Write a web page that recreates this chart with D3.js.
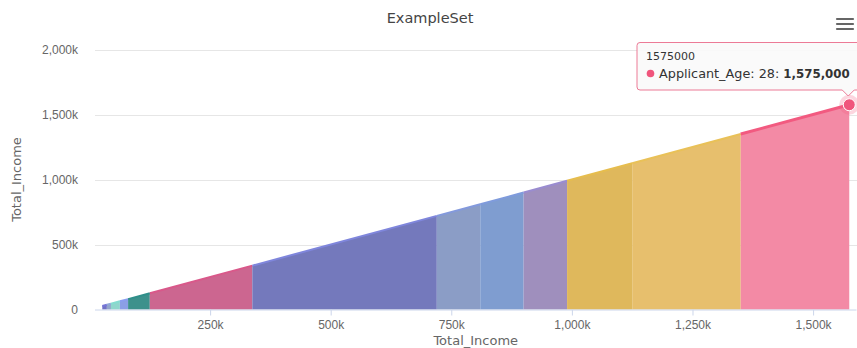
<!DOCTYPE html>
<html>
<head>
<meta charset="utf-8">
<script src="https://cdn.jsdelivr.net/npm/d3@7"></script>
<style>
  html, body { margin: 0; padding: 0; background: #fff; }
  svg { display: block; font-family: "DejaVu Sans", Verdana, sans-serif; }
</style>
</head>
<body>
<svg id="chart" width="857" height="348"></svg>
<script>
// Income boundaries between consecutive Applicant_Age series (x = y = Total_Income)
const incomeBreaks = [26500, 36000, 44500, 63000, 80000, 125000, 337500, 720000,
                      810000, 900000, 990000, 1125000, 1350000, 1575000];
// Fill and line colour of each series, in the same order as the segments
const seriesFill = ["#7272c6", "#93a6cc", "#8fd6cc", "#8b9fe6", "#3d918c", "#cc6690",
                    "#7479bc", "#8b9dc6", "#7f9dd0", "#9f8fbd", "#dfb85c", "#e7bf6d", "#f38aa5"];
const seriesLine = ["#7676d8", "#90a8d8", "#84dcd0", "#8a9ef0", "#2f8f8a", "#d9588a",
                    "#7f86dc", "#8399dc", "#7f9bdc", "#9a8cd0", "#e6bd4e", "#e9c158", "#f25a80"];
const xTicks = [250000, 500000, 750000, 1000000, 1250000, 1500000];
const yTicks = [0, 500000, 1000000, 1500000, 2000000];
const hoverAge = 28;
const hoverIncome = 1575000;

const svg = d3.select("#chart");
const W = 857, H = 348;
const plot = { left: 95, right: 856.5, top: 49.5, bottom: 309.5 };

const x = d3.scaleLinear().domain([11400, 1590000]).range([plot.left, plot.right]);
const y = d3.scaleLinear().domain([0, 2000000]).range([plot.bottom, plot.top]);

const kFmt = v => v === 0 ? "0" : d3.format(",")(v / 1000) + "k";

// Title
svg.append("text")
  .attr("x", 430).attr("y", 23)
  .attr("text-anchor", "middle")
  .attr("font-size", "14.5px")
  .attr("fill", "#444")
  .text("ExampleSet");

// Context menu icon
const menu = svg.append("g").attr("stroke", "#666").attr("stroke-width", 2.2).attr("stroke-linecap", "round");
[19, 24, 29].forEach(cy => menu.append("line").attr("x1", 837).attr("x2", 853).attr("y1", cy).attr("y2", cy));

// Horizontal grid and y labels
const yAxis = d3.axisLeft(y).tickValues(yTicks).tickFormat(kFmt).tickSize(0).tickPadding(17);
const yg = svg.append("g").attr("transform", `translate(${plot.left},0)`).call(yAxis);
yg.select(".domain").remove();
yg.selectAll("text").attr("font-size", "12px").attr("fill", "#666").attr("font-family", null);
svg.append("g").selectAll("line")
  .data(yTicks.filter(v => v > 0))
  .join("line")
  .attr("x1", plot.left).attr("x2", W)
  .attr("y1", d => Math.round(y(d)) + 0.5).attr("y2", d => Math.round(y(d)) + 0.5)
  .attr("stroke", "#e6e6e6").attr("stroke-width", 1);

// Area segments, one per Applicant_Age series
const area = d3.area().x(d => x(d)).y0(y(0)).y1(d => y(d));
const line = d3.line().x(d => x(d)).y(d => y(d));
const segs = d3.range(incomeBreaks.length - 1).map(i => ({
  pts: [incomeBreaks[i], incomeBreaks[i + 1]], fill: seriesFill[i], stroke: seriesLine[i], i
}));
const gArea = svg.append("g");
gArea.selectAll("path.area").data(segs).join("path")
  .attr("class", "area")
  .attr("d", d => area(d.pts))
  .attr("fill", d => d.fill);
gArea.selectAll("path.line").data(segs).join("path")
  .attr("class", "line")
  .attr("d", d => line(d.pts))
  .attr("fill", "none")
  .attr("stroke", d => d.stroke)
  .attr("stroke-width", d => d.i === segs.length - 1 ? 3 : 2);

// X axis
const xAxis = d3.axisBottom(x).tickValues(xTicks).tickFormat(kFmt).tickSize(6).tickPadding(5);
const xg = svg.append("g").attr("transform", `translate(0,${plot.bottom})`).call(xAxis);
xg.select(".domain").attr("stroke", "#ccd6eb").attr("d", `M${plot.left},0.5H${plot.right}`);
xg.selectAll(".tick line").attr("stroke", "#ccd6eb");
xg.selectAll("text").attr("font-size", "12px").attr("fill", "#666").attr("font-family", null);

// Axis titles
svg.append("text")
  .attr("x", (plot.left + plot.right) / 2).attr("y", 345)
  .attr("text-anchor", "middle").attr("font-size", "13px").attr("fill", "#666")
  .text("Total_Income");
svg.append("text")
  .attr("transform", `translate(21,${(plot.top + plot.bottom) / 2}) rotate(-90)`)
  .attr("text-anchor", "middle").attr("font-size", "13px").attr("fill", "#666")
  .text("Total_Income");

// Hovered point with halo
const hx = x(hoverIncome), hy = y(hoverIncome);
svg.append("circle").attr("cx", hx).attr("cy", hy).attr("r", 10)
  .attr("fill", "#f25a80").attr("opacity", 0.25);
svg.append("circle").attr("cx", hx).attr("cy", hy).attr("r", 6)
  .attr("fill", "#f0557c").attr("stroke", "#fff").attr("stroke-width", 1);

// Tooltip
const tip = svg.append("g");
const bx = 637, by = 42.5, bw = 240, bh = 47.5;
const ax = hx - 1;
tip.append("path")
  .attr("d", `M${bx + 3},${by} H${bx + bw - 3} Q${bx + bw},${by} ${bx + bw},${by + 3} V${by + bh - 3}
              Q${bx + bw},${by + bh} ${bx + bw - 3},${by + bh} H${ax + 6} L${ax},${by + bh + 6} L${ax - 6},${by + bh}
              H${bx + 3} Q${bx},${by + bh} ${bx},${by + bh - 3} V${by + 3} Q${bx},${by} ${bx + 3},${by} Z`)
  .attr("fill", "rgba(250,250,250,0.9)")
  .attr("stroke", "#ec7a96").attr("stroke-width", 1);
tip.append("text").attr("x", 646).attr("y", 59.5)
  .attr("font-size", "11px").attr("fill", "#333")
  .text(hoverIncome);
tip.append("circle").attr("cx", 650.5).attr("cy", 73.5).attr("r", 3.8).attr("fill", "#f0557c");
const t2 = tip.append("text").attr("x", 659).attr("y", 77.5)
  .attr("font-size", "12.8px").attr("fill", "#333");
t2.append("tspan").text(`Applicant_Age: ${hoverAge}: `);
t2.append("tspan").attr("font-weight", "bold").attr("font-size", "11.8px").text(d3.format(",")(hoverIncome));
</script>
</body>
</html>
